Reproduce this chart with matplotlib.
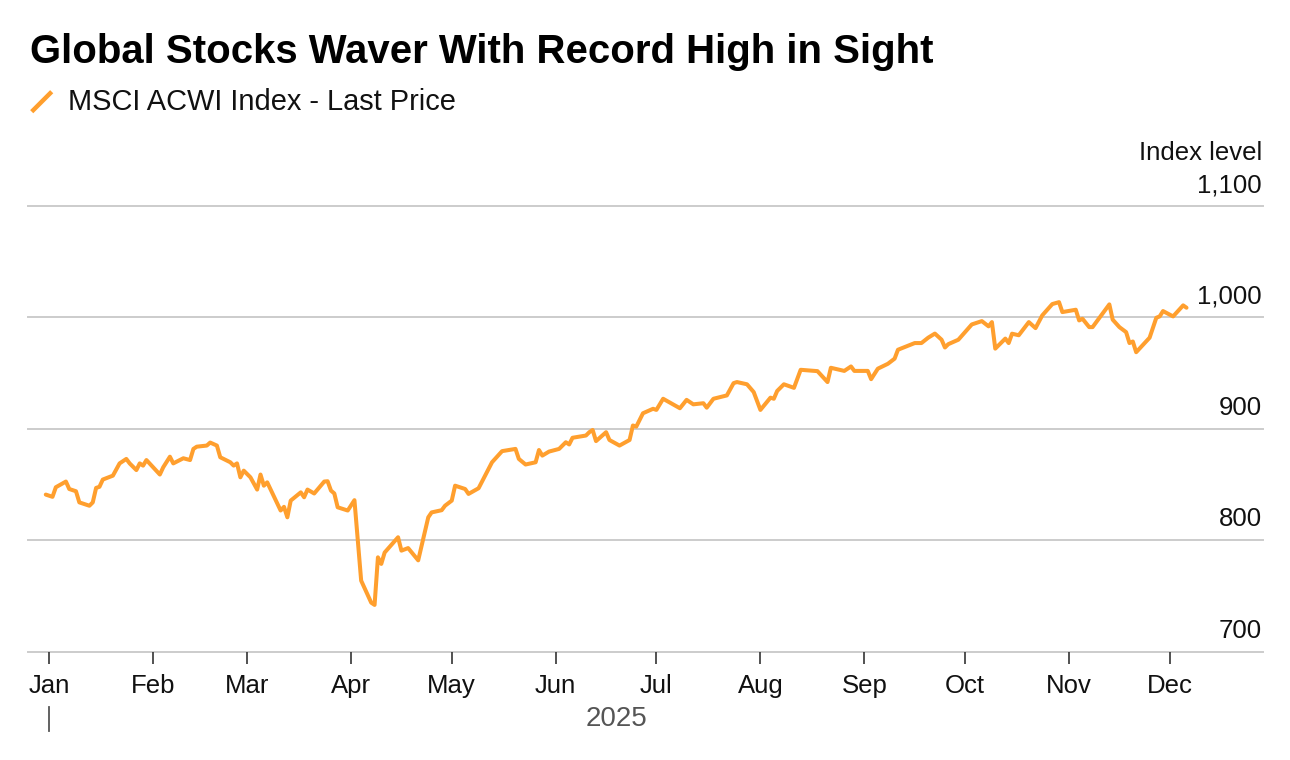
import matplotlib
matplotlib.use("Agg")
import matplotlib.pyplot as plt
import matplotlib.dates as mdates
from matplotlib.lines import Line2D
import matplotlib.transforms as mtransforms
import pandas as pd

plt.rcParams['font.family'] = ['Liberation Sans', 'DejaVu Sans']

TITLE = "Global Stocks Waver With Record High in Sight"
SERIES_NAME = "MSCI ACWI Index - Last Price"
Y_UNIT = "Index level"
YEAR_LABEL = "2025"

dates = [
    "2024-12-31", "2025-01-02", "2025-01-03", "2025-01-06", "2025-01-07", "2025-01-09", "2025-01-10",
    "2025-01-13", "2025-01-14", "2025-01-15", "2025-01-16", "2025-01-17", "2025-01-20", "2025-01-22",
    "2025-01-24", "2025-01-25", "2025-01-27", "2025-01-28", "2025-01-29", "2025-01-30", "2025-02-01",
    "2025-02-03", "2025-02-04", "2025-02-06", "2025-02-07", "2025-02-10", "2025-02-12", "2025-02-13",
    "2025-02-14", "2025-02-17", "2025-02-18", "2025-02-20", "2025-02-21", "2025-02-24", "2025-02-25",
    "2025-02-26", "2025-02-27", "2025-02-28", "2025-03-02", "2025-03-04", "2025-03-05", "2025-03-06",
    "2025-03-07", "2025-03-11", "2025-03-12", "2025-03-13", "2025-03-14", "2025-03-17", "2025-03-18",
    "2025-03-19", "2025-03-21", "2025-03-24", "2025-03-25", "2025-03-26", "2025-03-27", "2025-03-28",
    "2025-03-31", "2025-04-02", "2025-04-04", "2025-04-07", "2025-04-08", "2025-04-09", "2025-04-10",
    "2025-04-11", "2025-04-15", "2025-04-16", "2025-04-18", "2025-04-21", "2025-04-24", "2025-04-25",
    "2025-04-28", "2025-04-29", "2025-05-01", "2025-05-02", "2025-05-05", "2025-05-06", "2025-05-09",
    "2025-05-13", "2025-05-16", "2025-05-20", "2025-05-21", "2025-05-23", "2025-05-26", "2025-05-27",
    "2025-05-28", "2025-05-30", "2025-06-02", "2025-06-04", "2025-06-05", "2025-06-06", "2025-06-10",
    "2025-06-11", "2025-06-12", "2025-06-13", "2025-06-16", "2025-06-17", "2025-06-20", "2025-06-23",
    "2025-06-24", "2025-06-25", "2025-06-27", "2025-06-30", "2025-07-01", "2025-07-03", "2025-07-08",
    "2025-07-10", "2025-07-12", "2025-07-15", "2025-07-16", "2025-07-18", "2025-07-22", "2025-07-24",
    "2025-07-25", "2025-07-28", "2025-07-30", "2025-08-01", "2025-08-04", "2025-08-05", "2025-08-06",
    "2025-08-08", "2025-08-11", "2025-08-13", "2025-08-18", "2025-08-21", "2025-08-22", "2025-08-26",
    "2025-08-28", "2025-08-29", "2025-09-02", "2025-09-03", "2025-09-05", "2025-09-08", "2025-09-10",
    "2025-09-11", "2025-09-16", "2025-09-18", "2025-09-20", "2025-09-22", "2025-09-24", "2025-09-25",
    "2025-09-26", "2025-09-29", "2025-10-03", "2025-10-06", "2025-10-08", "2025-10-09", "2025-10-10",
    "2025-10-13", "2025-10-14", "2025-10-15", "2025-10-17", "2025-10-20", "2025-10-22", "2025-10-24",
    "2025-10-27", "2025-10-29", "2025-10-30", "2025-11-03", "2025-11-04", "2025-11-05", "2025-11-07",
    "2025-11-08", "2025-11-13", "2025-11-14", "2025-11-16", "2025-11-18", "2025-11-19", "2025-11-20",
    "2025-11-21", "2025-11-25", "2025-11-27", "2025-11-28", "2025-11-29", "2025-12-02", "2025-12-05",
    "2025-12-06",
]

values = [
    841, 839, 847.6, 852.7, 846, 844, 834,
    831, 834, 847, 848, 854.5, 858, 869,
    873, 869, 863, 869, 867, 872, 865.5,
    859, 865.5, 875, 869, 873.6, 872, 882,
    884, 885, 887.7, 885, 874.5, 870, 867,
    869, 856.5, 862.5, 856.5, 845.5, 859, 849,
    852, 826.7, 830, 820.6, 835.6, 843, 838.6,
    845.5, 842, 852.7, 853, 844.6, 842, 829.6,
    826.7, 836, 763.8, 744, 742, 784.7, 778.8,
    789, 802.7, 790.7, 793, 782, 820.6, 825,
    827, 831, 835.6, 849, 846, 841.6, 846.7,
    870, 880, 882, 873, 868, 870, 881,
    876, 879.6, 882, 888, 886, 892, 894,
    897, 899, 889, 897, 890, 885, 890,
    903, 902, 914, 918, 917, 927, 918.5,
    926, 922, 923, 919, 927, 930, 941,
    942, 940, 933, 917, 928, 927, 934,
    940, 936.8, 953, 951.8, 942, 954.8, 952,
    956, 952, 952, 944.6, 954, 958.4, 963,
    971, 977, 977, 981.8, 985.5, 980, 973,
    976, 980, 993.7, 996.7, 992, 995.8, 972,
    981, 977, 985.4, 984, 995.8, 990.4, 1001.8,
    1012, 1013.7, 1004.8, 1006.9, 997.3, 998.8, 991.3,
    991.3, 1011.7, 998, 991.3, 986.8, 977, 978.4,
    968.8, 981.8, 999.7, 1000.9, 1005.7, 1000.9, 1010.8,
    1008.7,
]

y_ticks = [700, 800, 900, 1000, 1100]
y_tick_labels = ["700", "800", "900", "1,000", "1,100"]
month_ticks = ["2025-01-01", "2025-02-01", "2025-03-01", "2025-04-01", "2025-05-01", "2025-06-01",
               "2025-07-01", "2025-08-01", "2025-09-01", "2025-10-01", "2025-11-01", "2025-12-01"]
month_labels = ["Jan", "Feb", "Mar", "Apr", "May", "Jun", "Jul", "Aug", "Sep", "Oct", "Nov", "Dec"]

LINE_COLOR = "#FF9F2E"
GRID_COLOR = "#CCCCCC"
TEXT_COLOR = "#111111"

W, H = 1290, 760
fig = plt.figure(figsize=(W / 100, H / 100), dpi=100)
fig.patch.set_facecolor("white")

ax = fig.add_axes([28 / W, 1 - 651.7 / H, (1263 - 28) / W, (651.7 - 206) / H])
ax.set_facecolor("white")

x = pd.to_datetime(dates)
ax.plot(x, values, color=LINE_COLOR, lw=2.9, solid_joinstyle="round", solid_capstyle="round", zorder=3)

ax.set_ylim(y_ticks[0], y_ticks[-1])
jan1 = mdates.date2num(pd.Timestamp("2025-01-01"))
ax.set_xlim(jan1 - 6.3, jan1 + 361.8)

for v in y_ticks:
    ax.axhline(v, color=GRID_COLOR, lw=1.4, zorder=1, clip_on=False)
for v, lab in zip(y_ticks, y_tick_labels):
    ax.annotate(lab, xy=(1.0, v), xycoords=("axes fraction", "data"), xytext=(-1, 10),
                textcoords="offset points", ha="right", va="baseline", fontsize=18.5, color=TEXT_COLOR)
ax.set_yticks([])

for s in ax.spines.values():
    s.set_visible(False)

ax.set_xticks(pd.to_datetime(month_ticks))
ax.set_xticklabels(month_labels, fontsize=18.5, color=TEXT_COLOR)
ax.tick_params(axis="x", direction="out", length=8.6, width=1.2, color="#333333", pad=7.5)

# unit label
fig.text(1262 / W, 1 - 160 / H, Y_UNIT, ha="right", va="baseline", fontsize=18.5, color=TEXT_COLOR)

# year marker under Jan
trans = mtransforms.blended_transform_factory(ax.transData, fig.transFigure)
fig.add_artist(Line2D([jan1, jan1], [1 - 707 / H, 1 - 731 / H], transform=trans, color="#555555", lw=1.3))
fig.text(616.5 / W, 1 - 726 / H, YEAR_LABEL, ha="center", va="baseline", fontsize=20, color="#555555")

# legend
fig.add_artist(Line2D([31.7 / W, 51.7 / W], [1 - 111.7 / H, 1 - 91.7 / H], transform=fig.transFigure,
                      color=LINE_COLOR, lw=3.2, solid_capstyle="butt"))
leg = fig.text(68 / W, 1 - 110 / H, SERIES_NAME, ha="left", va="baseline", fontsize=20, color=TEXT_COLOR)

# title
title = fig.text(30 / W, 1 - 63 / H, TITLE, ha="left", va="baseline", fontsize=28, fontweight="bold", color="#000000")

# fit text widths to the reference
fig.canvas.draw()
r = fig.canvas.get_renderer()
for t, target in ((title, 903), (leg, 387)):
    w = t.get_window_extent(renderer=r).width
    t.set_fontsize(t.get_fontsize() * target / w)

fig.savefig("out.png", dpi=100, facecolor="white")
